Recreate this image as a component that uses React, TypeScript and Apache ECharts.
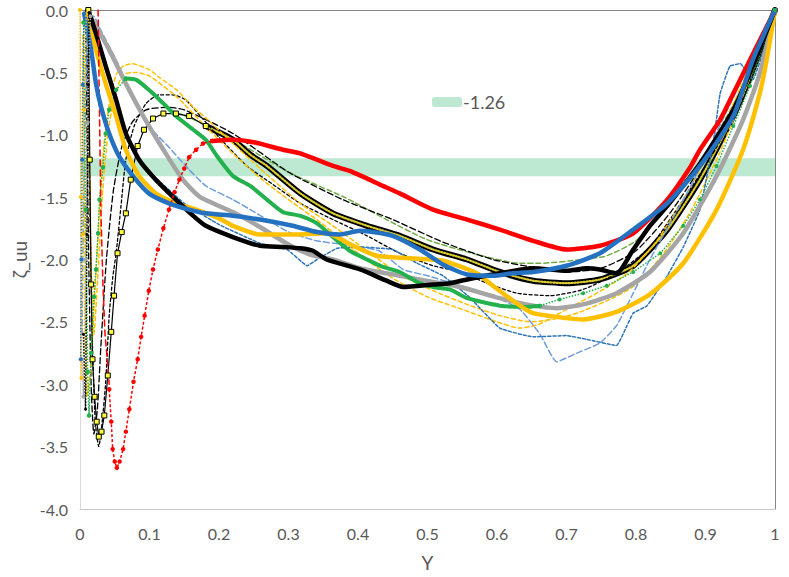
import React, { useEffect, useRef } from "react";
import * as echarts from "echarts";

// ---- data (Y, zeta_uu) ----
const bandValue = -1.26;
const bandData = [[0, bandValue], [1, bandValue]];

const blackWall = [[0.005, -2.6], [0.008, -3.2], [0.01, -1.8], [0.012, -0.6], [0.013, -0.02]];
const blackThick = [[0.013, -0.02], [0.023, -0.19], [0.037, -0.45], [0.052, -0.72], [0.066, -0.99], [0.085, -1.2], [0.109, -1.36], [0.138, -1.52], [0.163, -1.65], [0.181, -1.73], [0.22, -1.82], [0.259, -1.89], [0.292, -1.9], [0.317, -1.91], [0.335, -1.93], [0.355, -2.0], [0.403, -2.08], [0.441, -2.17], [0.465, -2.22], [0.508, -2.2], [0.532, -2.19], [0.557, -2.16], [0.604, -2.11], [0.652, -2.07], [0.7, -2.09], [0.729, -2.07], [0.748, -2.08], [0.772, -2.11], [0.796, -1.92], [0.82, -1.73], [0.845, -1.57], [0.892, -1.23], [0.94, -0.8], [0.968, -0.45], [1, 0]];

const greyWall = [[0.003, -2.8], [0.005, -3.1], [0.008, -2.0], [0.011, -0.9], [0.015, -0.05]];
const greyThick = [[0.015, -0.05], [0.042, -0.32], [0.066, -0.59], [0.091, -0.85], [0.12, -1.12], [0.148, -1.36], [0.173, -1.5], [0.22, -1.62], [0.259, -1.74], [0.3, -1.88], [0.331, -1.96], [0.364, -2.0], [0.403, -2.07], [0.46, -2.13], [0.508, -2.18], [0.547, -2.22], [0.604, -2.31], [0.652, -2.37], [0.686, -2.39], [0.724, -2.36], [0.772, -2.27], [0.82, -2.1], [0.868, -1.79], [0.916, -1.33], [0.954, -0.88], [0.978, -0.51], [1, 0]];

const orangeWall = [[0.0, 0], [0.001, -1.5], [0.002, -2.95], [0.004, -1.8], [0.006, -0.8], [0.009, -0.03]];
const orangeThick = [[0.009, -0.03], [0.023, -0.32], [0.037, -0.59], [0.052, -0.85], [0.066, -1.12], [0.085, -1.33], [0.109, -1.47], [0.138, -1.55], [0.167, -1.6], [0.2, -1.67], [0.22, -1.73], [0.259, -1.8], [0.306, -1.8], [0.355, -1.79], [0.393, -1.89], [0.427, -1.97], [0.475, -1.99], [0.522, -2.01], [0.571, -2.11], [0.594, -2.21], [0.633, -2.37], [0.652, -2.43], [0.7, -2.47], [0.724, -2.48], [0.772, -2.42], [0.82, -2.28], [0.868, -2.03], [0.916, -1.6], [0.954, -1.12], [0.978, -0.67], [0.988, -0.4], [1, 0]];

const blueWall = [[0.001, -2.8], [0.002, -2.0], [0.003, -1.2], [0.004, -0.6], [0.006, -0.03]];
const blueThick = [[0.006, -0.03], [0.016, -0.32], [0.023, -0.59], [0.03, -0.77], [0.042, -0.99], [0.056, -1.17], [0.076, -1.33], [0.099, -1.47], [0.128, -1.55], [0.157, -1.6], [0.181, -1.63], [0.22, -1.65], [0.259, -1.68], [0.306, -1.73], [0.341, -1.78], [0.374, -1.8], [0.403, -1.77], [0.45, -1.81], [0.489, -1.92], [0.522, -2.04], [0.557, -2.12], [0.594, -2.13], [0.623, -2.11], [0.652, -2.1], [0.7, -2.05], [0.748, -1.95], [0.796, -1.76], [0.845, -1.55], [0.892, -1.25], [0.94, -0.85], [0.968, -0.4], [1, 0]];

const greenWall = [[0.005, -0.1], [0.008, -1.6], [0.011, -2.9], [0.013, -3.25], [0.016, -2.75], [0.02, -2.3], [0.023, -2.08], [0.026, -1.79], [0.028, -1.52], [0.033, -1.26], [0.037, -0.99], [0.042, -0.8], [0.052, -0.64], [0.066, -0.55]];
const greenThick = [[0.066, -0.55], [0.081, -0.56], [0.099, -0.64], [0.12, -0.75], [0.138, -0.85], [0.163, -0.96], [0.181, -1.04], [0.197, -1.17], [0.22, -1.33], [0.245, -1.41], [0.269, -1.52], [0.292, -1.62], [0.317, -1.65], [0.341, -1.71], [0.364, -1.82], [0.388, -1.93], [0.413, -2.0], [0.436, -2.06], [0.46, -2.1], [0.485, -2.18], [0.508, -2.22], [0.532, -2.24], [0.557, -2.31], [0.604, -2.37], [0.64, -2.38], [0.662, -2.37]];
const greenDots = [[0.662, -2.37], [0.69, -2.32], [0.724, -2.27], [0.758, -2.21], [0.796, -2.1], [0.835, -1.95], [0.868, -1.73], [0.892, -1.52], [0.916, -1.25], [0.94, -0.93], [0.964, -0.61], [1, 0]];
const greenDash = [[0.13, -0.8], [0.2, -0.97], [0.3, -1.3], [0.38, -1.5], [0.441, -1.68], [0.499, -1.84], [0.571, -1.96], [0.633, -2.03], [0.662, -2.03], [0.724, -2.0], [0.758, -1.97], [0.8, -1.85], [0.85, -1.55], [0.9, -1.15], [0.95, -0.65], [1, 0]];

const redDash = [[0.026, 0], [0.028, -0.8], [0.03, -1.6], [0.033, -2.2], [0.036, -2.6], [0.04, -2.85], [0.042, -3.0]];
const redDots = [[0.042, -3.04], [0.045, -3.3], [0.047, -3.52], [0.05, -3.62], [0.053, -3.67], [0.057, -3.62], [0.062, -3.52], [0.066, -3.38], [0.071, -3.2], [0.077, -2.98], [0.083, -2.8], [0.088, -2.62], [0.093, -2.45], [0.099, -2.25], [0.105, -2.08], [0.112, -1.92], [0.12, -1.75], [0.128, -1.6], [0.136, -1.46], [0.143, -1.36], [0.15, -1.27], [0.157, -1.18], [0.167, -1.12], [0.177, -1.07], [0.19, -1.05]];
const redThick = [[0.19, -1.05], [0.22, -1.04], [0.25, -1.06], [0.292, -1.12], [0.317, -1.15], [0.364, -1.25], [0.388, -1.29], [0.436, -1.41], [0.46, -1.47], [0.508, -1.6], [0.557, -1.68], [0.604, -1.76], [0.652, -1.85], [0.7, -1.92], [0.748, -1.89], [0.796, -1.79], [0.845, -1.52], [0.878, -1.26], [0.892, -1.12], [0.921, -0.88], [0.94, -0.67], [0.964, -0.4], [1, 0]];

const squaresWall = [[0.012, 0], [0.014, -1.2], [0.016, -2.2], [0.018, -2.8], [0.021, -3.1], [0.024, -3.3], [0.027, -3.42], [0.031, -3.38], [0.035, -3.25], [0.04, -2.93], [0.045, -2.58], [0.049, -2.29], [0.054, -1.95], [0.06, -1.78], [0.066, -1.63], [0.073, -1.36], [0.083, -1.09], [0.092, -0.96], [0.105, -0.87], [0.12, -0.83], [0.138, -0.83], [0.157, -0.85], [0.181, -0.93]];
const squaresCore = [[0.181, -0.93], [0.22, -1.04], [0.245, -1.16], [0.269, -1.25], [0.317, -1.47], [0.364, -1.63], [0.413, -1.73], [0.46, -1.81], [0.508, -1.92], [0.557, -2.0], [0.604, -2.1], [0.652, -2.17], [0.7, -2.19], [0.748, -2.16], [0.796, -2.05], [0.845, -1.76], [0.892, -1.36], [0.94, -0.85], [0.968, -0.48], [1, 0]];

const blackDashA = [[0.01, 0], [0.014, -1.5], [0.018, -2.7], [0.022, -3.3], [0.027, -3.5], [0.032, -3.3], [0.037, -2.98], [0.042, -2.45], [0.047, -2.15], [0.052, -1.95], [0.059, -1.57], [0.066, -1.2], [0.078, -0.93], [0.095, -0.75], [0.114, -0.68], [0.133, -0.68], [0.152, -0.72], [0.173, -0.85], [0.2, -1.02], [0.24, -1.25], [0.278, -1.4], [0.317, -1.55], [0.364, -1.68], [0.413, -1.81], [0.46, -1.95], [0.508, -2.05], [0.547, -2.1], [0.59, -2.2], [0.629, -2.27], [0.676, -2.29], [0.724, -2.24], [0.772, -2.11], [0.82, -1.9], [0.868, -1.52], [0.916, -1.1], [0.954, -0.67], [1, 0]];
const blackDashB = [[0.008, 0], [0.012, -1.8], [0.016, -3.0], [0.02, -3.4], [0.025, -3.2], [0.03, -2.7], [0.038, -2.0], [0.048, -1.45], [0.06, -1.1], [0.075, -0.9], [0.095, -0.8], [0.125, -0.78], [0.15, -0.8], [0.22, -0.99], [0.3, -1.3], [0.378, -1.52], [0.45, -1.68], [0.522, -1.86], [0.594, -2.0], [0.65, -2.06], [0.7, -2.1], [0.75, -2.07], [0.8, -1.93], [0.85, -1.62], [0.9, -1.2], [0.94, -0.8], [0.97, -0.4], [1, 0]];

const orangeDashA = [[0.004, -0.2], [0.007, -1.8], [0.01, -3.1], [0.015, -2.9], [0.022, -2.2], [0.028, -1.6], [0.034, -1.1], [0.042, -0.75], [0.052, -0.52], [0.062, -0.45], [0.075, -0.43], [0.1, -0.48], [0.114, -0.54], [0.139, -0.64], [0.163, -0.78], [0.182, -0.87], [0.22, -1.07], [0.259, -1.27], [0.317, -1.55], [0.364, -1.73], [0.413, -1.93], [0.46, -2.12], [0.508, -2.25], [0.557, -2.36], [0.604, -2.45], [0.65, -2.5], [0.69, -2.47], [0.72, -2.42], [0.77, -2.3], [0.8, -2.2], [0.84, -1.95], [0.88, -1.6], [0.92, -1.15], [0.96, -0.6], [1, 0]];
const orangeDashB = [[0.012, -0.3], [0.016, -2.0], [0.02, -2.6], [0.026, -2.1], [0.032, -1.5], [0.04, -1.0], [0.05, -0.68], [0.062, -0.52], [0.08, -0.5], [0.1, -0.53], [0.14, -0.7], [0.18, -0.93], [0.22, -1.15], [0.26, -1.35], [0.3, -1.52], [0.35, -1.72], [0.4, -1.95], [0.45, -2.15], [0.5, -2.3], [0.55, -2.4], [0.6, -2.5], [0.633, -2.55], [0.66, -2.52], [0.7, -2.4], [0.75, -2.25], [0.79, -2.1], [0.83, -1.85], [0.87, -1.5], [0.92, -1.0], [0.96, -0.5], [1, 0]];

const blueDashA = [[0.003, -2.6], [0.006, -1.2], [0.012, -0.1], [0.02, -0.05], [0.027, -0.13], [0.052, -0.4], [0.076, -0.69], [0.099, -0.93], [0.128, -1.1], [0.157, -1.28], [0.181, -1.41], [0.22, -1.52], [0.245, -1.6], [0.269, -1.68], [0.3, -1.78], [0.34, -1.85], [0.38, -1.88], [0.43, -1.93], [0.465, -2.08], [0.5, -2.13], [0.547, -2.21], [0.594, -2.29], [0.633, -2.4], [0.662, -2.6], [0.686, -2.82], [0.715, -2.75], [0.748, -2.67], [0.772, -2.53], [0.796, -2.27], [0.82, -2.0], [0.85, -1.7], [0.88, -1.4], [0.91, -1.05], [0.94, -0.7], [0.97, -0.35], [1, 0]];
const blueDashB = [[0.1, -1.3], [0.15, -1.55], [0.2, -1.72], [0.259, -1.87], [0.298, -1.92], [0.327, -2.05], [0.341, -2.0], [0.37, -1.91], [0.403, -1.9], [0.45, -1.92], [0.485, -2.03], [0.522, -2.13], [0.56, -2.3], [0.604, -2.55], [0.652, -2.62], [0.7, -2.61], [0.729, -2.64], [0.772, -2.69], [0.787, -2.53], [0.796, -2.43], [0.816, -2.37], [0.845, -2.13], [0.868, -1.9], [0.892, -1.6], [0.911, -1.07], [0.921, -0.67], [0.935, -0.45], [0.95, -0.43], [0.968, -0.56], [0.985, -0.3], [1, 0]];

const xTicks = [0, 0.1, 0.2, 0.3, 0.4, 0.5, 0.6, 0.7, 0.8, 0.9, 1];
const yTicks = [-4, -3.5, -3, -2.5, -2, -1.5, -1, -0.5, 0];

// ---- styles ----
const C = {
  black: "#000000",
  grey: "#a5a5a5",
  orange: "#ffc000",
  blue: "#2371c0",
  blueDashLight: "#6d9ddc",
  blueDashDark: "#2e75b6",
  green: "#22b14c",
  greenDash: "#70ad47",
  red: "#ff0000",
  band: "#bde9d2",
  text: "#595959",
};
const FONT = "Lato, 'Liberation Sans', sans-serif";

function ln(name: string, data: number[][], color: string, width: number, type: any, extra: any = {}) {
  return {
    type: "line",
    name,
    data,
    symbol: "none",
    showSymbol: false,
    lineStyle: { color, width, type, cap: "round", join: "round" },
    itemStyle: { color },
    silent: true,
    ...extra,
  };
}
function dots(name: string, data: number[][], color: string, size: number, lineType: any) {
  return {
    type: "line",
    name,
    data,
    symbol: "circle",
    symbolSize: size,
    showSymbol: true,
    lineStyle: { color, width: 1.5, type: lineType },
    itemStyle: { color, borderWidth: 0 },
    silent: true,
  };
}

export default function App() {
  const ref = useRef<HTMLDivElement>(null);
  useEffect(() => {
    if (!ref.current) return;
    const chart = echarts.init(ref.current, undefined, { renderer: "svg" });
    const series: any[] = [
      ln("-1.26", bandData, C.band, 18, "solid", { lineStyle: { color: C.band, width: 18, cap: "butt" } }),
      ln("greenDash", greenDash, C.greenDash, 1.5, [5, 3], { smooth: 0.2 }),
      ln("squaresCoreBase", squaresCore, "#000000", 6, "solid", { smooth: 0.2 }),
      ln("squaresCoreFill", squaresCore, "#d8cc30", 2.2, [1.2, 1.8], { smooth: 0.2 }),
      ln("blackDashB", blackDashB, C.black, 1.3, [6, 3], { smooth: 0.2 }),
      ln("blackDashA", blackDashA, C.black, 1.3, [3, 2.5], { smooth: 0.2 }),
      ln("orangeDashA", orangeDashA, C.orange, 1.5, [4, 3], { smooth: 0.2 }),
      ln("orangeDashB", orangeDashB, C.orange, 1.5, [4, 3], { smooth: 0.2 }),
      ln("blueDashA", blueDashA, C.blueDashLight, 1.5, [6, 3], { smooth: 0.15 }),
      ln("blueDashB", blueDashB, C.blueDashDark, 1.5, [3, 2], { smooth: 0.1 }),
      {
        type: "line",
        name: "squaresWall",
        data: squaresWall,
        symbol: "rect",
        symbolSize: 5,
        showSymbol: true,
        lineStyle: { color: C.black, width: 1.2 },
        itemStyle: { color: "#ffff40", borderColor: "#000", borderWidth: 1 },
        silent: true,
      },
      ln("greyThick", greyThick, C.grey, 4.5, "solid", { smooth: 0.2 }),
      ln("greenThick", greenThick, C.green, 4, "solid", { smooth: 0.2 }),
      dots("greenDots", greenDots, C.green, 4, "dotted"),
      dots("greenWall", greenWall, C.green, 4.5, "dotted"),
      ln("orangeThick", orangeThick, C.orange, 4.5, "solid", { smooth: 0.2 }),
      ln("blackThick", blackThick, C.black, 4.5, "solid", { smooth: 0.2 }),
      ln("redThick", redThick, C.red, 4.5, "solid", { smooth: 0.2 }),
      dots("redDots", redDots, C.red, 4.5, [3, 2]),
      ln("redDash", redDash, C.red, 1.5, [6, 4]),
      ln("blueThick", blueThick, C.blue, 4.5, "solid", { smooth: 0.2 }),
      dots("greyWall", greyWall, C.grey, 4, "dotted"),
      dots("orangeWall", orangeWall, C.orange, 4, "dotted"),
      dots("blackWall", blackWall, C.black, 3, "dotted"),
      dots("blueWall", blueWall, C.blue, 4, "dotted"),
    ];
    chart.setOption({
      animation: false,
      backgroundColor: "#ffffff",
      textStyle: { fontFamily: FONT },
      grid: { left: 80, right: 14, top: 10, bottom: 67, containLabel: false },
      legend: {
        data: [{ name: "-1.26", icon: "roundRect", itemStyle: { color: C.band } }],
        left: 432,
        top: 93,
        padding: 0,
        itemWidth: 30,
        itemHeight: 10,
        selectedMode: false,
        textStyle: { color: C.text, fontSize: 18, fontFamily: FONT, padding: [0, 0, 0, -4] },
      },
      xAxis: [
        {
          type: "value",
          min: xTicks[0],
          max: xTicks[xTicks.length - 1],
          interval: 0.1,
          position: "bottom",
          name: "Y",
          nameLocation: "middle",
          nameGap: 44,
          nameTextStyle: { color: C.text, fontSize: 19, fontFamily: FONT },
          axisLine: { show: true, onZero: false, lineStyle: { color: "#c8c8c8", width: 1 } },
          axisTick: { show: false },
          splitLine: { show: false },
          axisLabel: {
            color: C.text,
            fontSize: 16,
            fontFamily: FONT,
            margin: 16,
            formatter: (v: number) => String(Math.round(v * 10) / 10),
          },
        },
        {
          type: "value",
          min: 0,
          max: 1,
          position: "top",
          axisLine: { show: true, onZero: false, lineStyle: { color: "#868686", width: 1 } },
          axisTick: { show: false },
          axisLabel: { show: false },
          splitLine: { show: false },
        },
      ],
      yAxis: [
        {
          type: "value",
          min: yTicks[0],
          max: yTicks[yTicks.length - 1],
          interval: 0.5,
          position: "left",
          name: "ζ_uu",
          nameLocation: "middle",
          nameGap: 48,
          nameRotate: 90,
          nameTextStyle: { color: C.text, fontSize: 19, fontFamily: FONT },
          axisLine: { show: true, onZero: false, lineStyle: { color: "#d9d9d9", width: 1 } },
          axisTick: { show: false },
          splitLine: { show: false },
          axisLabel: {
            color: C.text,
            fontSize: 16,
            fontFamily: FONT,
            margin: 12,
            formatter: (v: number) => v.toFixed(1),
          },
        },
        {
          type: "value",
          min: -4,
          max: 0,
          position: "right",
          axisLine: { show: true, onZero: false, lineStyle: { color: "#868686", width: 1 } },
          axisTick: { show: false },
          axisLabel: { show: false },
          splitLine: { show: false },
        },
      ],
      series,
    });
    return () => chart.dispose();
  }, []);
  return (
    <div
      ref={ref}
      style={{ position: "fixed", left: 0, top: 0, width: 789, height: 577, background: "#fff" }}
    />
  );
}
